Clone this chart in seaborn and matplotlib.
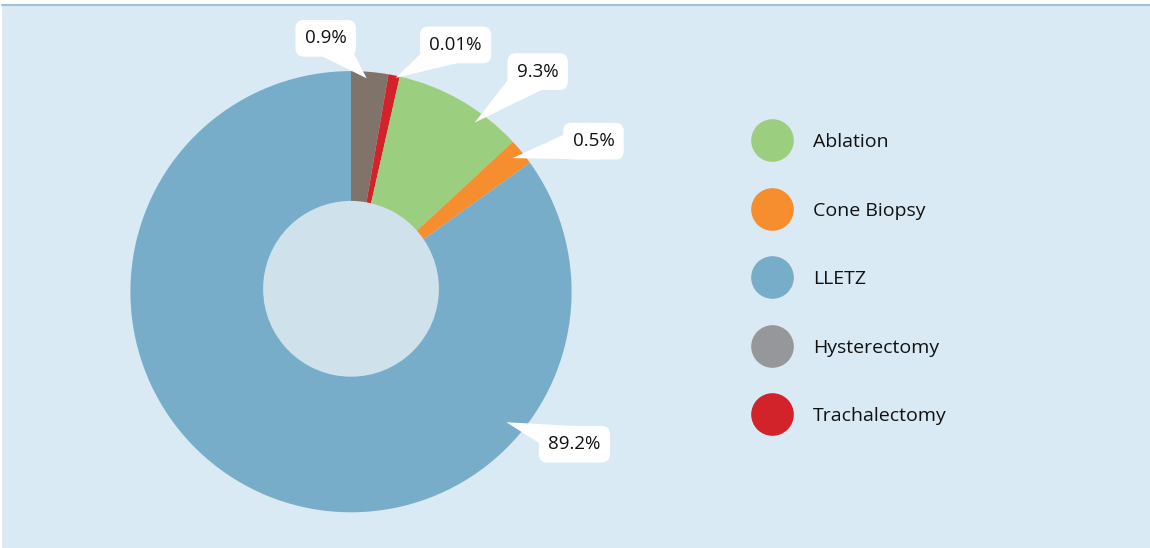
import numpy as np
import matplotlib
matplotlib.use("Agg")
import matplotlib.pyplot as plt
from matplotlib.patches import Circle, Rectangle
from matplotlib.lines import Line2D
import seaborn as sns

# ---------------- data ----------------
slice_names = ["Hysterectomy", "Trachalectomy", "Ablation", "Cone Biopsy", "LLETZ"]
slice_shares = [2.72, 0.83, 9.56, 1.94, 84.95]          # drawn share of the ring (%)
slice_labels = ["0.9%", "0.01%", "9.3%", "0.5%", "89.2%"]  # printed callout values
slice_colors = ["#7F736A", "#D2232A", "#9BCE7F", "#F68D2E", "#78ADCA"]

legend_names = ["Ablation", "Cone Biopsy", "LLETZ", "Hysterectomy", "Trachalectomy"]
legend_colors = ["#9BCE7F", "#F68D2E", "#78ADCA", "#96979A", "#D2232A"]

# callout placement (layout only): position along slice, radial fraction, text offset (px)
tip_frac = [0.43, 0.67, 0.68, 0.46, 0.248]
tip_rad = [0.97, 0.99, 0.95, 0.95, 0.92]
text_off = [(-41, 40), (60, 33), (63, 51), (81, 17), (68, -22)]

# ---------------- style ----------------
sns.set_theme(style="white")
plt.rcParams["font.family"] = ["Open Sans", "DejaVu Sans"]

W, H, DPI = 1150, 548, 100
fig = plt.figure(figsize=(W / DPI, H / DPI), dpi=DPI, facecolor="white")
ax = fig.add_axes([0, 0, 1, 1])
ax.set_axis_off()

# pixel geometry of the ring
cx, cy, R = 351.0, 291.7, 220.6   # pixel centre (y from top) and radius

# panel background
panel = Rectangle((2 / W, 0), 1 - 2 / W, 1 - 4.5 / H, transform=ax.transAxes,
                  facecolor="#D9EAF4", edgecolor="none", zorder=0)
ax.add_patch(panel)
ax.add_line(Line2D([2 / W, 1], [1 - 5 / H, 1 - 5 / H], transform=ax.transAxes,
                   color="#9DC3DA", lw=1.5, zorder=1))

wedges, _ = ax.pie(slice_shares, colors=slice_colors, startangle=90,
                   counterclock=False, radius=1, center=(0, 0),
                   wedgeprops=dict(linewidth=0))
for w in wedges:
    w.set_zorder(2)

hole = Circle((0, (cy - 288.8) / R), 87.9 / R, facecolor="#CFE1EB",
              edgecolor="none", zorder=3)
ax.add_patch(hole)

ax.set_xlim(-cx / R, (W - cx) / R)
ax.set_ylim(-(H - cy) / R, cy / R)
ax.set_aspect("auto")

# callouts
px_to_pt = 72.0 / DPI
for w, lab, f, r, (ox, oy) in zip(wedges, slice_labels, tip_frac, tip_rad, text_off):
    ang = np.deg2rad(w.theta2 - f * (w.theta2 - w.theta1))
    tip = (r * np.cos(ang), r * np.sin(ang))
    ax.annotate(lab, xy=tip, xytext=(ox * px_to_pt, oy * px_to_pt),
                textcoords="offset points", ha="center", va="center",
                fontsize=13.5, color="#111111", zorder=5,
                bbox=dict(boxstyle="round,pad=0.5,rounding_size=0.45",
                          fc="white", ec="none"),
                arrowprops=dict(arrowstyle="wedge,tail_width=2.0,shrink_factor=0.5",
                                fc="white", ec="none", shrinkA=0, shrinkB=0,
                                patchA=None))

# legend
handles = [Line2D([], [], marker="o", ls="", markersize=30.7,
                  markerfacecolor=c, markeredgecolor="none") for c in legend_colors]
leg = ax.legend(handles, legend_names, loc="upper left",
                bbox_to_anchor=(750.5 / W, 1 - 133 / H), bbox_transform=fig.transFigure,
                frameon=False, fontsize=14, handlelength=2.2, handletextpad=1.0,
                labelspacing=2.6, borderpad=0, borderaxespad=0)
for t in leg.get_texts():
    t.set_color("#111111")

fig.savefig("out.png", dpi=DPI, facecolor="white")
